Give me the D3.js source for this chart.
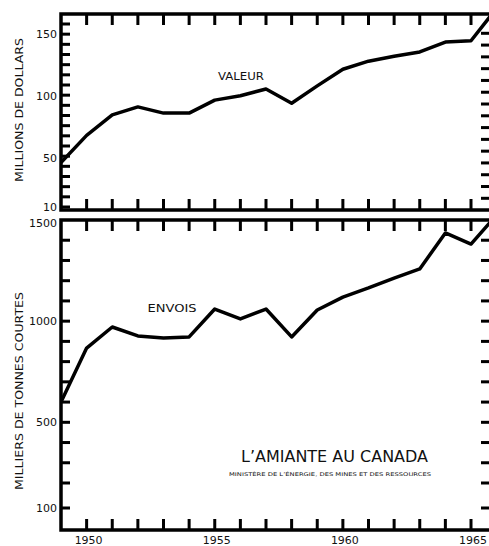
<!DOCTYPE html>
<html><head><meta charset="utf-8">
<script src="https://cdn.jsdelivr.net/npm/d3@7"></script>
<style>
html,body{margin:0;padding:0;background:#fff;}
svg{display:block;}
text{font-family:"DejaVu Sans",sans-serif;fill:#111;}
</style></head>
<body>
<svg id="c" width="489" height="546" viewBox="0 0 489 546"></svg>
<script>
// ---- data ----
const years = [1949,1950,1951,1952,1953,1954,1955,1956,1957,1958,1959,1960,1961,1962,1963,1964,1965,1966];
const valeur = [46,68,84.5,91,86,86,96.5,100,105.5,94,108,121.5,128,132,135.5,143.5,144.5,171];
const envois = [600,867,971,927,917,922,1060,1011,1060,922,1055,1119,1164,1213,1258,1436,1381,1525];
const yearTicks = [1950,1951,1952,1953,1954,1955,1956,1957,1958,1959,1960,1961,1962,1963,1964,1965];
const yearLabels = [1950,1955,1960,1965];
const valeurLabels = [150,100,50,10];
const envoisLabels = [1500,1000,500,100];
const envoisTicks = [100,200,300,400,500,600,700,800,900,1000,1100,1200,1300,1400];

// ---- layout ----
const L = 61, R = 492, CLIPR = 489;
const T1 = 14, B1 = 210;
const T2 = 220, B2 = 530;
const svg = d3.select("#c");

const xs = d3.scaleLinear().domain([1949,1965]).range([L,471]);
const y1 = d3.scaleLinear().domain([10,150]).range([207,34]);
const y2 = d3.scaleLinear().domain([100,200,1500]).range([508,483,220]);

const v1Left = d3.range(0,19).map(i => y1.invert(207 - i*(183/18)));
const v1Right = d3.range(0,15).map(i => y1.invert(198.3 - i*(165/14)));

// clip paths & data lines first
const defs = svg.append("defs");
defs.append("clipPath").attr("id","clip1").append("rect")
  .attr("x",L).attr("y",T1).attr("width",CLIPR-L).attr("height",B1-T1);
defs.append("clipPath").attr("id","clip2").append("rect")
  .attr("x",L).attr("y",T2).attr("width",CLIPR-L).attr("height",B2-T2);

svg.append("path").datum(years.map((yr,i)=>[yr,valeur[i]]))
  .attr("clip-path","url(#clip1)")
  .attr("fill","none").attr("stroke","#000").attr("stroke-width",3.5).attr("stroke-linejoin","round")
  .attr("d",d3.line().x(d=>xs(d[0])).y(d=>y1(d[1])));
svg.append("path").datum(years.map((yr,i)=>[yr,envois[i]]))
  .attr("clip-path","url(#clip2)")
  .attr("fill","none").attr("stroke","#000").attr("stroke-width",3.5).attr("stroke-linejoin","round")
  .attr("d",d3.line().x(d=>xs(d[0])).y(d=>y2(d[1])));

// frames
[[T1,B1],[T2,B2]].forEach(([t,b])=>{
  svg.append("rect").attr("x",L).attr("y",t).attr("width",R-L).attr("height",b-t)
    .attr("fill","none").attr("stroke","#000").attr("stroke-width",3.5);
});

// year ticks (top & bottom of each panel)
const yearTickSpecs = [];
[[T1,11],[B1,-11],[T2,11],[B2,-11]].forEach(([y0,len])=>{
  yearTicks.forEach(d=>yearTickSpecs.push({v:d,y0:y0,len:len}));
});
svg.append("g").selectAll("rect").data(yearTickSpecs).enter().append("rect")
  .attr("x", d=>xs(d.v)-1.5).attr("width",3)
  .attr("y", d=>d.len>0?d.y0:d.y0+d.len).attr("height", d=>Math.abs(d.len))
  .attr("fill","#000");

// value ticks (left & right)
const valTickSpecs = [];
v1Left.forEach(v=>valTickSpecs.push({y:y1(v),x0:L,len:9}));
v1Right.forEach(v=>valTickSpecs.push({y:y1(v),x0:489,len:-8}));
envoisTicks.forEach(v=>valTickSpecs.push({y:y2(v),x0:L,len:9}));
envoisTicks.forEach(v=>valTickSpecs.push({y:y2(v),x0:489,len:-8}));
svg.append("g").selectAll("rect").data(valTickSpecs).enter().append("rect")
  .attr("x", d=>d.len>0?d.x0:d.x0+d.len).attr("width", d=>Math.abs(d.len))
  .attr("y", d=>d.y-1.5).attr("height",3).attr("fill","#000");

// tick labels
svg.append("g").selectAll("text").data(valeurLabels).enter().append("text")
  .attr("x",57).attr("y",d=>y1(d)).attr("dy","0.36em").attr("text-anchor","end")
  .attr("font-size",11).text(d=>d);
svg.append("g").selectAll("text").data(envoisLabels).enter().append("text")
  .attr("x",57).attr("y",d=>d===1500?223:y2(d)).attr("dy","0.36em").attr("text-anchor","end")
  .attr("font-size",11).text(d=>d);
svg.append("g").selectAll("text").data(yearLabels).enter().append("text")
  .attr("x",d=>xs(d)+2).attr("y",544).attr("text-anchor","middle")
  .attr("font-size",11).text(d=>d);

// labels
svg.append("text").attr("x",241).attr("y",80).attr("text-anchor","middle")
  .attr("font-size",11).attr("textLength",46).attr("lengthAdjust","spacingAndGlyphs").text("VALEUR");
svg.append("text").attr("x",172).attr("y",312).attr("text-anchor","middle")
  .attr("font-size",11).attr("textLength",49).attr("lengthAdjust","spacingAndGlyphs").text("ENVOIS");
svg.append("text").attr("transform","translate(23,110) rotate(-90)").attr("text-anchor","middle")
  .attr("font-size",10.5).attr("textLength",144).attr("lengthAdjust","spacingAndGlyphs")
  .text("MILLIONS DE DOLLARS");
svg.append("text").attr("transform","translate(23,391) rotate(-90)").attr("text-anchor","middle")
  .attr("font-size",10.5).attr("textLength",198).attr("lengthAdjust","spacingAndGlyphs")
  .text("MILLIERS DE TONNES COURTES");

// title block
svg.append("text").attr("x",241).attr("y",462)
  .attr("font-size",16).attr("textLength",187).attr("lengthAdjust","spacingAndGlyphs")
  .text("L’AMIANTE AU CANADA");
svg.append("text").attr("x",229).attr("y",476)
  .attr("font-size",5).attr("textLength",202).attr("lengthAdjust","spacingAndGlyphs")
  .text("MINISTÈRE DE L’ÉNERGIE, DES MINES ET DES RESSOURCES");
</script>
</body></html>
